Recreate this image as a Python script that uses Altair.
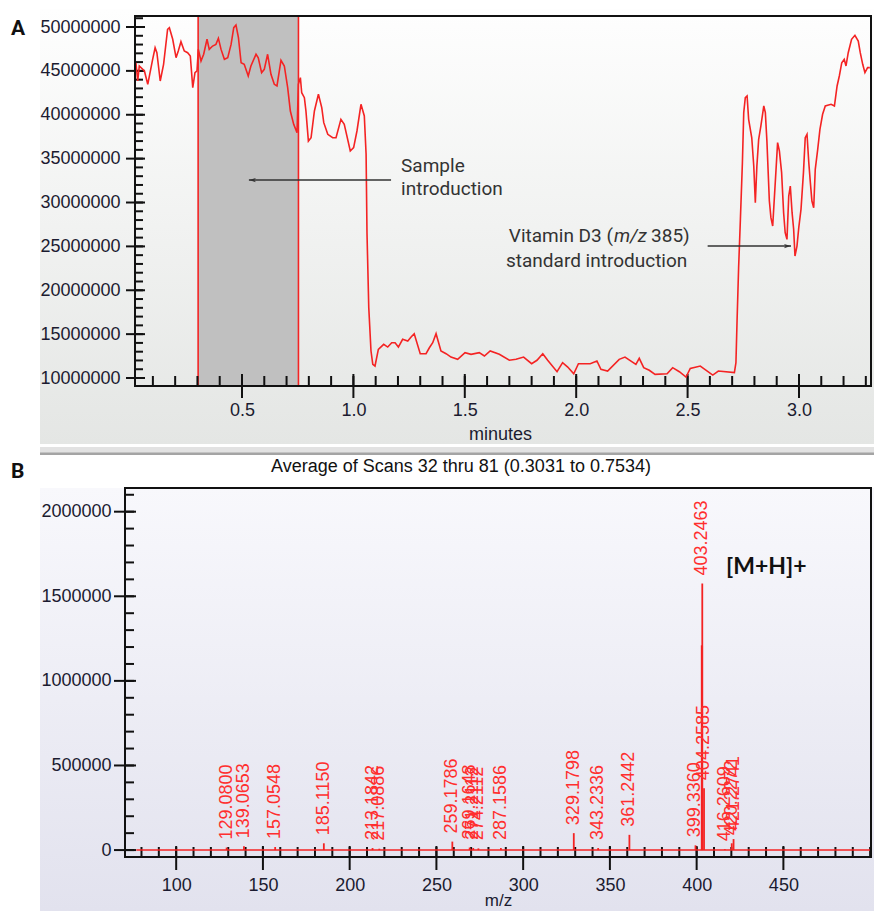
import altair as alt
import pandas as pd

# ---------------- Panel A : chromatogram ----------------
tic_time = [0.024, 0.032, 0.039, 0.062, 0.077, 0.099, 0.110, 0.118, 0.133, 0.148,
            0.166, 0.174, 0.189, 0.204, 0.214, 0.226, 0.241, 0.256, 0.268, 0.279,
            0.289, 0.298, 0.304, 0.316, 0.328, 0.343, 0.353, 0.368, 0.383, 0.394,
            0.406, 0.421, 0.436, 0.451, 0.463, 0.473, 0.484, 0.496, 0.510, 0.528,
            0.540, 0.563, 0.573, 0.588, 0.600, 0.615, 0.630, 0.645, 0.657, 0.675,
            0.690, 0.705, 0.717, 0.732, 0.747, 0.753, 0.762, 0.768, 0.780, 0.787,
            0.798, 0.810, 0.825, 0.843, 0.858, 0.867, 0.885, 0.907, 0.922, 0.944,
            0.959, 0.986, 1.001, 1.016, 1.034, 1.049, 1.057, 1.061, 1.069, 1.079,
            1.087, 1.097, 1.112, 1.136, 1.154, 1.172, 1.187, 1.202, 1.221, 1.244,
            1.259, 1.273, 1.300, 1.326, 1.341, 1.356, 1.371, 1.393, 1.416, 1.438,
            1.468, 1.501, 1.528, 1.565, 1.588, 1.614, 1.655, 1.700, 1.730, 1.764,
            1.800, 1.824, 1.850, 1.872, 1.914, 1.939, 1.962, 1.989, 2.010, 2.063,
            2.093, 2.111, 2.141, 2.193, 2.219, 2.268, 2.283, 2.303, 2.328, 2.354,
            2.408, 2.433, 2.463, 2.493, 2.512, 2.557, 2.613, 2.638, 2.710, 2.717,
            2.722, 2.729, 2.737, 2.746, 2.752, 2.759, 2.767, 2.774, 2.788, 2.797,
            2.804, 2.811, 2.819, 2.829, 2.842, 2.849, 2.856, 2.867, 2.874, 2.882,
            2.889, 2.897, 2.904, 2.912, 2.922, 2.931, 2.938, 2.946, 2.954, 2.961,
            2.969, 2.976, 2.982, 2.991, 2.999, 3.009, 3.020, 3.028, 3.036, 3.044,
            3.051, 3.058, 3.066, 3.073, 3.084, 3.094, 3.106, 3.118, 3.144, 3.159,
            3.171, 3.181, 3.192, 3.203, 3.211, 3.221, 3.236, 3.251, 3.266, 3.275,
            3.286, 3.296, 3.308, 3.318]
tic_millions = [45.93, 43.85, 45.56, 44.99, 43.47, 46.32, 47.64, 47.07, 43.85, 45.75,
                49.74, 49.92, 48.60, 46.50, 47.26, 48.33, 47.26, 47.07, 46.70, 43.09,
                44.80, 44.99, 47.45, 46.13, 46.89, 48.60, 47.45, 47.83, 48.02, 48.71,
                47.45, 46.32, 46.50, 48.02, 49.92, 50.23, 48.78, 45.93, 45.75, 44.42,
                45.56, 46.89, 46.50, 44.80, 45.18, 46.89, 44.61, 43.47, 43.28, 46.20,
                45.56, 43.09, 40.43, 38.91, 37.96, 43.47, 44.23, 42.51, 41.94, 40.43,
                37.00, 37.38, 40.43, 42.33, 40.81, 39.10, 37.77, 37.38, 37.38, 39.48,
                38.91, 35.87, 36.25, 38.15, 41.19, 39.86, 35.49, 26.56, 18.02, 13.08,
                11.56, 11.37, 13.27, 13.84, 13.53, 14.02, 14.02, 13.53, 14.41, 14.22,
                14.67, 15.05, 12.77, 12.77, 13.45, 14.02, 15.05, 13.08, 12.77, 12.39,
                12.13, 12.89, 12.70, 12.89, 12.51, 13.08, 12.70, 12.02, 12.13, 12.39,
                11.63, 12.02, 12.77, 12.02, 10.72, 11.75, 11.25, 10.49, 11.63, 11.63,
                11.94, 10.99, 10.80, 12.13, 12.39, 11.56, 12.24, 11.18, 10.88, 10.42,
                10.49, 11.18, 10.72, 10.11, 11.10, 11.37, 10.34, 10.80, 10.61, 11.75,
                16.50, 22.57, 28.08, 34.54, 40.24, 41.94, 42.14, 39.48, 37.38, 34.16,
                29.98, 34.16, 37.20, 38.72, 41.00, 40.24, 37.00, 30.17, 28.27, 27.32,
                30.36, 33.78, 36.82, 35.87, 33.40, 28.84, 26.56, 25.80, 30.74, 31.88,
                28.84, 26.95, 23.90, 25.04, 27.13, 29.22, 33.40, 37.38, 37.77, 34.54,
                32.26, 30.17, 29.41, 33.78, 36.06, 38.34, 40.05, 41.00, 41.19, 41.00,
                43.28, 44.42, 45.93, 46.32, 45.56, 47.07, 48.60, 49.05, 48.40, 47.07,
                45.75, 44.80, 45.37, 45.37]

sample_window = [0.3031, 0.7534]

a_x_labels = [0.5, 1.0, 1.5, 2.0, 2.5, 3.0]
a_x_minor = [round(0.1 * i, 1) for i in range(1, 34)]
a_y_labels = [10000000, 15000000, 20000000, 25000000, 30000000, 35000000, 40000000, 45000000, 50000000]
a_y_minor = [1000000 * i for i in range(10, 52)]

# annotation anchors (minutes, intensity)
arrow1_from, arrow1_to, arrow1_y = 1.169, 0.531, 32560000
arrow2_from, arrow2_to, arrow2_y = 2.590, 2.964, 25040000
sample_text = ["Sample", "introduction"]
sample_text_t = 1.214
sample_text_y = [34160000, 31540000]
vit_line_y = [26180000, 23330000]

# ---------------- Panel B : mass spectrum ----------------
peak_labels = ["129.0800", "139.0653", "157.0548", "185.1150", "213.1842", "217.0886",
               "259.1786", "269.1648", "271.2112", "274.2112", "287.1586", "329.1798",
               "343.2336", "361.2442", "399.3360", "403.2463", "404.2585", "416.2609",
               "420.2272", "421.2741"]
peak_heights = [15000, 22000, 18000, 40000, 12000, 8000,
                50000, 15000, 12000, 10000, 12000, 100000,
                12000, 90000, 28000, 1575000, 366000, 5000,
                40000, 65000]
shoulder_mz = [403.05]
shoulder_height = [1210000]
spectrum_range = [77.0, 500.5]

b_x_labels = [100, 150, 200, 250, 300, 350, 400, 450]
b_x_minor = [10 * i for i in range(8, 51)]
b_y_labels = [0, 500000, 1000000, 1500000, 2000000]
b_y_minor = [100000 * i for i in range(0, 22)]

# ---------------- styling ----------------
RED = "#f42323"
LBL = "#1b1b30"
AF = "Liberation Sans"
W = 746            # both plot groups share the same origin (page x=124)
HA = 370
HB = 369
OFF = 10           # panel A frame starts 10px right of the shared origin

one = pd.DataFrame({"k": [0]})

# ---------- Panel A chart ----------
sxA = alt.Scale(domain=[-0.02513, 3.3232], nice=False, zero=False)
syA = alt.Scale(domain=[9090000, 51254000], nice=False, zero=False)
axA_x = alt.Axis(values=a_x_labels, format=".1f", ticks=False, domain=False, grid=False,
                 labelFont=AF, labelFontSize=18, labelColor=LBL, labelPadding=15,
                 title="minutes", titleFont=AF, titleFontSize=18, titleFontWeight="normal",
                 titleColor=LBL, titleY=48, titleX=375, titleBaseline="middle", zindex=2)
axA_y = alt.Axis(values=a_y_labels, format="d", ticks=False, domain=False, grid=False,
                 labelFont=AF, labelFontSize=18, labelColor=LBL, labelPadding=5,
                 title=None, zindex=2)

def XA(f="t"):
    return alt.X(f"{f}:Q", scale=sxA, axis=axA_x)

def YA(f="v"):
    return alt.Y(f"{f}:Q", scale=syA, axis=axA_y)

tic = pd.DataFrame({"t": tic_time, "v": [m * 1e6 for m in tic_millions]})

bgA = alt.Chart(one).mark_rect(
    fill=alt.LinearGradient(gradient="linear", x1=0, x2=0, y1=0, y2=1,
                            stops=[alt.GradientStop(color="#fefefe", offset=0),
                                   alt.GradientStop(color="#e4e6e4", offset=1)])
).encode(x=alt.value(-85), x2=alt.value(749), y=alt.value(-7), y2=alt.value(428))

borderA = alt.Chart(one).mark_rect(color="#e2e2e2").encode(
    x=alt.value(-85), x2=alt.value(749), y=alt.value(431), y2=alt.value(439))
borderA2 = alt.Chart(one).mark_rect(color="#a4a4a4").encode(
    x=alt.value(-85), x2=alt.value(749), y=alt.value(436.5), y2=alt.value(439))

band = alt.Chart(pd.DataFrame({"t": [sample_window[0]], "t2": [sample_window[1]]})).mark_rect(
    color="#c0c0c0").encode(x=XA(), x2="t2:Q", y=alt.value(0), y2=alt.value(HA))
band_edges = alt.Chart(pd.DataFrame({"t": sample_window})).mark_rule(
    color=RED, strokeWidth=1.6).encode(x=XA(), y=alt.value(0), y2=alt.value(HA - 1))

tA_ymin = alt.Chart(pd.DataFrame({"v": a_y_minor})).mark_rule(color="#111", strokeWidth=2).encode(
    y=YA(), x=alt.value(OFF), x2=alt.value(OFF + 8))
tA_ymaj = alt.Chart(pd.DataFrame({"v": a_y_labels})).mark_rule(color="#111", strokeWidth=2).encode(
    y=YA(), x=alt.value(OFF - 9), x2=alt.value(OFF + 10))
tA_xmin = alt.Chart(pd.DataFrame({"t": a_x_minor})).mark_rule(color="#111", strokeWidth=2).encode(
    x=XA(), y=alt.value(HA - 10), y2=alt.value(HA))
tA_xmaj = alt.Chart(pd.DataFrame({"t": a_x_labels})).mark_rule(color="#111", strokeWidth=2).encode(
    x=XA(), y=alt.value(HA - 12), y2=alt.value(HA + 12))

lineA = alt.Chart(tic).mark_line(color=RED, strokeWidth=1.6).encode(x=XA(), y=YA())

frameA = alt.Chart(one).mark_rect(fillOpacity=0, stroke="#111", strokeWidth=2).encode(
    x=alt.value(OFF), x2=alt.value(W), y=alt.value(0), y2=alt.value(HA))

ARR_L = "M0,0L2,-0.6L1.5,0L2,0.6Z"
ARR_R = "M0,0L-2,-0.6L-1.5,0L-2,0.6Z"
arrows_line = alt.Chart(pd.DataFrame({"t": [arrow1_from, arrow2_from], "t2": [arrow1_to, arrow2_to],
                                      "v": [arrow1_y, arrow2_y]})).mark_rule(
    color="#333", strokeWidth=1.5).encode(x=XA(), x2="t2:Q", y=YA())
head1 = alt.Chart(pd.DataFrame({"t": [arrow1_to], "v": [arrow1_y]})).mark_point(
    shape=ARR_L, filled=True, size=49, color="#333", opacity=1).encode(x=XA(), y=YA())
head2 = alt.Chart(pd.DataFrame({"t": [arrow2_to], "v": [arrow2_y]})).mark_point(
    shape=ARR_R, filled=True, size=49, color="#333", opacity=1).encode(x=XA(), y=YA())

TF = "Roboto"
sample_lbl = alt.Chart(pd.DataFrame({"t": [sample_text_t] * 2, "v": sample_text_y, "s": sample_text})).mark_text(
    font=TF, fontSize=19, color="#333", align="left", baseline="middle").encode(x=XA(), y=YA(), text="s:N")
vit1a = alt.Chart(pd.DataFrame({"t": [2.165], "v": [vit_line_y[0]]})).mark_text(
    text="Vitamin D3 (", font=TF, fontSize=19, color="#333", align="right", baseline="middle").encode(x=XA(), y=YA())
vit1b = alt.Chart(pd.DataFrame({"t": [2.243], "v": [vit_line_y[0]]})).mark_text(
    text="m/z", font=TF, fontSize=19, fontStyle="italic", color="#333", align="center", baseline="middle").encode(x=XA(), y=YA())
vit1c = alt.Chart(pd.DataFrame({"t": [2.336], "v": [vit_line_y[0]]})).mark_text(
    text="385)", font=TF, fontSize=19, color="#333", align="left", baseline="middle").encode(x=XA(), y=YA())
vit2 = alt.Chart(pd.DataFrame({"t": [1.685], "v": [vit_line_y[1]]})).mark_text(
    text="standard introduction", font=TF, fontSize=19, color="#333", align="left", baseline="middle").encode(x=XA(), y=YA())

letterA = alt.Chart(one).mark_text(text="A", font="Roboto", fontSize=21, fontWeight="bold", color="#111",
                                   align="left", baseline="middle").encode(x=alt.value(-114), y=alt.value(13))

chartA = alt.layer(bgA, borderA, borderA2, band, band_edges, tA_ymin, tA_ymaj, tA_xmin, tA_xmaj,
                   lineA, frameA, arrows_line, head1, head2, sample_lbl, vit1a, vit1b, vit1c, vit2,
                   letterA).properties(width=W, height=HA)

# ---------- Panel B chart ----------
sxB = alt.Scale(domain=[70.5, 500.5], nice=False, zero=False)
syB = alt.Scale(domain=[-41000, 2140000], nice=False, zero=False)
axB_x = alt.Axis(values=b_x_labels, format="d", ticks=False, domain=False, grid=False,
                 labelFont=AF, labelFontSize=18, labelColor=LBL, labelPadding=19,
                 title="m/z", titleFont=AF, titleFontSize=17, titleFontWeight="normal",
                 titleColor=LBL, titleY=43, titleBaseline="middle", zindex=2)
axB_y = alt.Axis(values=b_y_labels, format="d", ticks=False, domain=False, grid=False,
                 labelFont=AF, labelFontSize=18, labelColor=LBL, labelPadding=14,
                 title=None, zindex=2)

def XB(f="mz"):
    return alt.X(f"{f}:Q", scale=sxB, axis=axB_x)

def YB(f="inten"):
    return alt.Y(f"{f}:Q", scale=syB, axis=axB_y)

peaks = pd.DataFrame({"mz": [float(s) for s in peak_labels], "inten": peak_heights, "label": peak_labels})
shoulder = pd.DataFrame({"mz": shoulder_mz, "inten": shoulder_height})

topB = alt.Chart(one).mark_rect(color="white").encode(
    x=alt.value(-85), x2=alt.value(749), y=alt.value(-31), y2=alt.value(0))
bgB = alt.Chart(one).mark_rect(
    fill=alt.LinearGradient(gradient="linear", x1=0, x2=0, y1=0, y2=1,
                            stops=[alt.GradientStop(color="#f8f8fc", offset=0),
                                   alt.GradientStop(color="#e2e2ee", offset=1)])
).encode(x=alt.value(-85), x2=alt.value(749), y=alt.value(0), y2=alt.value(423))

tB_ymin = alt.Chart(pd.DataFrame({"inten": b_y_minor})).mark_rule(color="#111", strokeWidth=2).encode(
    y=YB(), x=alt.value(0), x2=alt.value(9))
tB_ymaj = alt.Chart(pd.DataFrame({"inten": b_y_labels})).mark_rule(color="#111", strokeWidth=2).encode(
    y=YB(), x=alt.value(-11), x2=alt.value(11))
tB_xmin = alt.Chart(pd.DataFrame({"mz": b_x_minor})).mark_rule(color="#111", strokeWidth=2).encode(
    x=XB(), y=alt.value(HB - 10), y2=alt.value(HB))
tB_xmaj = alt.Chart(pd.DataFrame({"mz": b_x_labels})).mark_rule(color="#111", strokeWidth=2).encode(
    x=XB(), y=alt.value(HB - 11), y2=alt.value(HB + 13))

baseB = alt.Chart(pd.DataFrame({"mz": [spectrum_range[0]], "mz2": [spectrum_range[1]], "inten": [0]})).mark_rule(
    color=RED, strokeWidth=1.5).encode(x=XB(), x2="mz2:Q", y=YB())
sticks = alt.Chart(peaks).mark_rule(color=RED, strokeWidth=1.8).encode(x=XB(), y=YB(), y2=alt.datum(0))
shoulder_stick = alt.Chart(shoulder).mark_rule(color=RED, strokeWidth=2.2).encode(x=XB(), y=YB(), y2=alt.datum(0))
plabels = alt.Chart(peaks).mark_text(angle=270, align="left", baseline="middle", dx=8,
                                     font=AF, fontSize=18, color="#ff2e2e").encode(
    x=XB(), y=YB(), text="label:N")

mh = alt.Chart(pd.DataFrame({"mz": [416.9], "inten": [1673000]})).mark_text(
    text="[M+H]+", font="Lato", fontSize=23, fontWeight="bold", color="#111",
    align="left", baseline="middle").encode(x=XB(), y=YB())

titleB = alt.Chart(one).mark_text(text="Average of Scans 32 thru 81 (0.3031 to 0.7534)", font=AF,
                                  fontSize=18, color="#111", align="center", baseline="middle").encode(
    x=alt.value(336), y=alt.value(-21))
letterB = alt.Chart(one).mark_text(text="B", font="Roboto", fontSize=21, fontWeight="bold", color="#111",
                                   align="left", baseline="middle").encode(x=alt.value(-114), y=alt.value(-16))

frameB = alt.Chart(one).mark_rect(fillOpacity=0, stroke="#111", strokeWidth=2).encode(
    x=alt.value(0), x2=alt.value(W), y=alt.value(0), y2=alt.value(HB))

chartB = alt.layer(topB, bgB, tB_ymin, tB_ymaj, tB_xmin, tB_xmaj, baseB, shoulder_stick, sticks,
                   plabels, mh, titleB, letterB, frameB).properties(width=W, height=HB)

chart = alt.vconcat(chartA, chartB, spacing=0).properties(
    padding={"left": 2, "top": 0, "right": 0, "bottom": 0}
).configure_view(strokeWidth=0).configure(background="white")

chart.save("out.html", embed_options={"renderer": "svg", "actions": False})
